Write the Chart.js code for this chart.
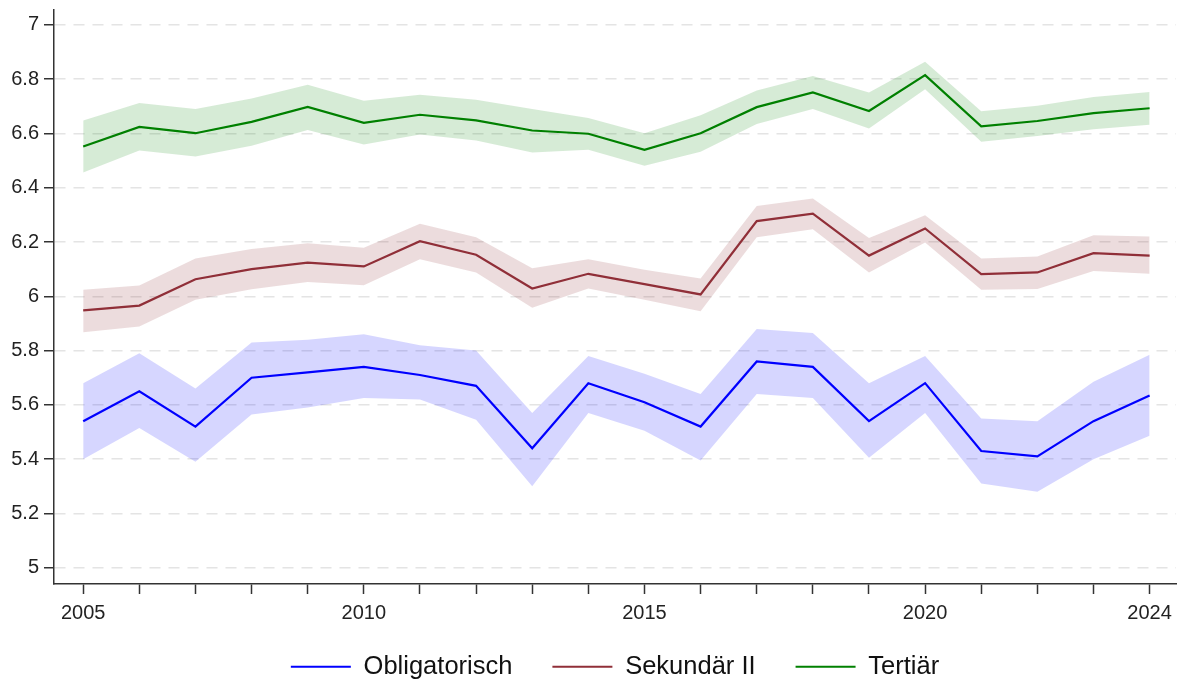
<!DOCTYPE html>
<html>
<head>
<meta charset="utf-8">
<script src="https://cdn.jsdelivr.net/npm/chart.js@4"></script>
<style>
  html, body { margin: 0; padding: 0; background: #fff; }
  #wrap { width: 1179px; height: 681px; }
</style>
</head>
<body>
<div id="wrap"><canvas id="chart" width="1179" height="681"></canvas></div>
<script>
const years = [2005, 2006, 2007, 2008, 2009, 2010, 2011, 2012, 2013, 2014,
               2015, 2016, 2017, 2018, 2019, 2020, 2021, 2022, 2023, 2024];
const labeledYears = [2005, 2010, 2015, 2020, 2024];

// Obligatorisch
const obligMean  = [5.54, 5.65, 5.52, 5.70, 5.72, 5.74, 5.71, 5.67, 5.44, 5.68, 5.61, 5.52, 5.76, 5.74, 5.54, 5.68, 5.43, 5.41, 5.54, 5.635];
const obligUpper = [5.68, 5.79, 5.66, 5.83, 5.84, 5.86, 5.82, 5.80, 5.57, 5.78, 5.715, 5.64, 5.88, 5.865, 5.68, 5.78, 5.55, 5.54, 5.685, 5.785];
const obligLower = [5.40, 5.515, 5.39, 5.565, 5.59, 5.625, 5.62, 5.545, 5.30, 5.57, 5.505, 5.395, 5.64, 5.625, 5.405, 5.57, 5.31, 5.28, 5.40, 5.486];

// Sekundär II
const sekMean  = [5.948, 5.966, 6.063, 6.10, 6.124, 6.11, 6.203, 6.153, 6.029, 6.083, 6.045, 6.007, 6.277, 6.305, 6.15, 6.25, 6.082, 6.088, 6.159, 6.15];
const sekUpper = [6.024, 6.04, 6.139, 6.174, 6.196, 6.179, 6.267, 6.218, 6.103, 6.137, 6.098, 6.066, 6.333, 6.36, 6.215, 6.299, 6.139, 6.147, 6.225, 6.22];
const sekLower = [5.868, 5.889, 5.987, 6.026, 6.053, 6.041, 6.137, 6.088, 5.958, 6.029, 5.987, 5.945, 6.218, 6.247, 6.088, 6.198, 6.024, 6.027, 6.093, 6.083];

// Tertiär
const terMean  = [6.552, 6.624, 6.601, 6.643, 6.698, 6.639, 6.669, 6.648, 6.611, 6.599, 6.54, 6.601, 6.697, 6.751, 6.683, 6.815, 6.626, 6.646, 6.675, 6.693];
const terUpper = [6.648, 6.712, 6.69, 6.729, 6.78, 6.721, 6.743, 6.724, 6.69, 6.657, 6.601, 6.667, 6.758, 6.812, 6.751, 6.864, 6.682, 6.702, 6.734, 6.753];
const terLower = [6.456, 6.537, 6.515, 6.555, 6.613, 6.559, 6.596, 6.574, 6.53, 6.54, 6.481, 6.533, 6.635, 6.69, 6.618, 6.763, 6.57, 6.591, 6.616, 6.632];

const pts = (arr) => arr.map((v, i) => ({x: years[i], y: v}));

const FONT = "'Liberation Sans', Arial, sans-serif";
const AXIS = '#333333';

function lineSet(label, data, color) {
    return {
        label: label,
        data: pts(data),
        borderColor: color,
        backgroundColor: color,
        borderWidth: 2.2,
        pointRadius: 0,
        tension: 0,
        fill: false,
        order: 0
    };
}

function bandSet(data, fill, color) {
    return {
        label: '_band',
        data: pts(data),
        borderWidth: 0,
        borderColor: 'rgba(0,0,0,0)',
        backgroundColor: color,
        pointRadius: 0,
        tension: 0,
        fill: fill,
        order: 1
    };
}

const datasets = [
    lineSet('Obligatorisch', obligMean, '#0000ff'),
    lineSet('Sekundär II', sekMean, '#902f38'),
    lineSet('Tertiär', terMean, '#008000'),
    bandSet(obligUpper, '+1', 'rgba(0,0,255,0.16)'),
    bandSet(obligLower, false, 'rgba(0,0,0,0)'),
    bandSet(sekUpper, '+1', 'rgba(144,47,56,0.17)'),
    bandSet(sekLower, false, 'rgba(0,0,0,0)'),
    bandSet(terUpper, '+1', 'rgba(0,128,0,0.16)'),
    bandSet(terLower, false, 'rgba(0,0,0,0)')
];

const ctx = document.getElementById('chart').getContext('2d');
new Chart(ctx, {
    type: 'line',
    data: { datasets: datasets },
    options: {
        responsive: false,
        animation: false,
        layout: { padding: { left: 0, right: 3, top: 10, bottom: -8.5 } },
        plugins: {
            tooltip: { enabled: false },
            legend: {
                position: 'bottom',
                fullSize: false,
                labels: {
                    filter: (item) => item.text !== '_band',
                    usePointStyle: true,
                    pointStyle: 'line',
                    pointStyleWidth: 60,
                    padding: 40,
                    color: '#111',
                    font: { family: FONT, size: 25.5 }
                }
            }
        },
        scales: {
            x: {
                type: 'linear',
                min: 2004.48,
                max: 2024.47,
                afterFit: (scale) => {
                    scale.height = 30;
                    // year labels hang into the legend's empty top padding
                    scale._computeLabelArea = () => undefined;
                },
                ticks: {
                    stepSize: 1,
                    includeBounds: false,
                    autoSkip: false,
                    maxRotation: 0,
                    padding: 7,
                    color: '#222',
                    font: { family: FONT, size: 20 },
                    callback: (v) => labeledYears.includes(v) ? String(v) : ''
                },
                grid: {
                    drawOnChartArea: false,
                    drawTicks: true,
                    tickLength: 10,
                    tickColor: AXIS,
                    tickWidth: 1.5
                },
                border: { color: AXIS, width: 1.5 }
            },
            y: {
                type: 'linear',
                min: 4.94,
                max: 7.055,
                afterFit: (scale) => {
                    scale.width = 54;
                    scale.paddingTop = 0;
                    scale.paddingBottom = 0;
                },
                ticks: {
                    stepSize: 0.2,
                    includeBounds: false,
                    padding: 5,
                    color: '#222',
                    font: { family: FONT, size: 20 },
                    callback: (v) => String(Math.round(v * 10) / 10)
                },
                grid: {
                    color: '#e4e4e4',
                    lineWidth: 1.5,
                    drawTicks: true,
                    tickLength: 10,
                    tickColor: AXIS,
                    tickWidth: 1.5
                },
                border: { color: AXIS, width: 1.5, dash: [11, 8] }
            }
        }
    }
});
</script>
</body>
</html>
